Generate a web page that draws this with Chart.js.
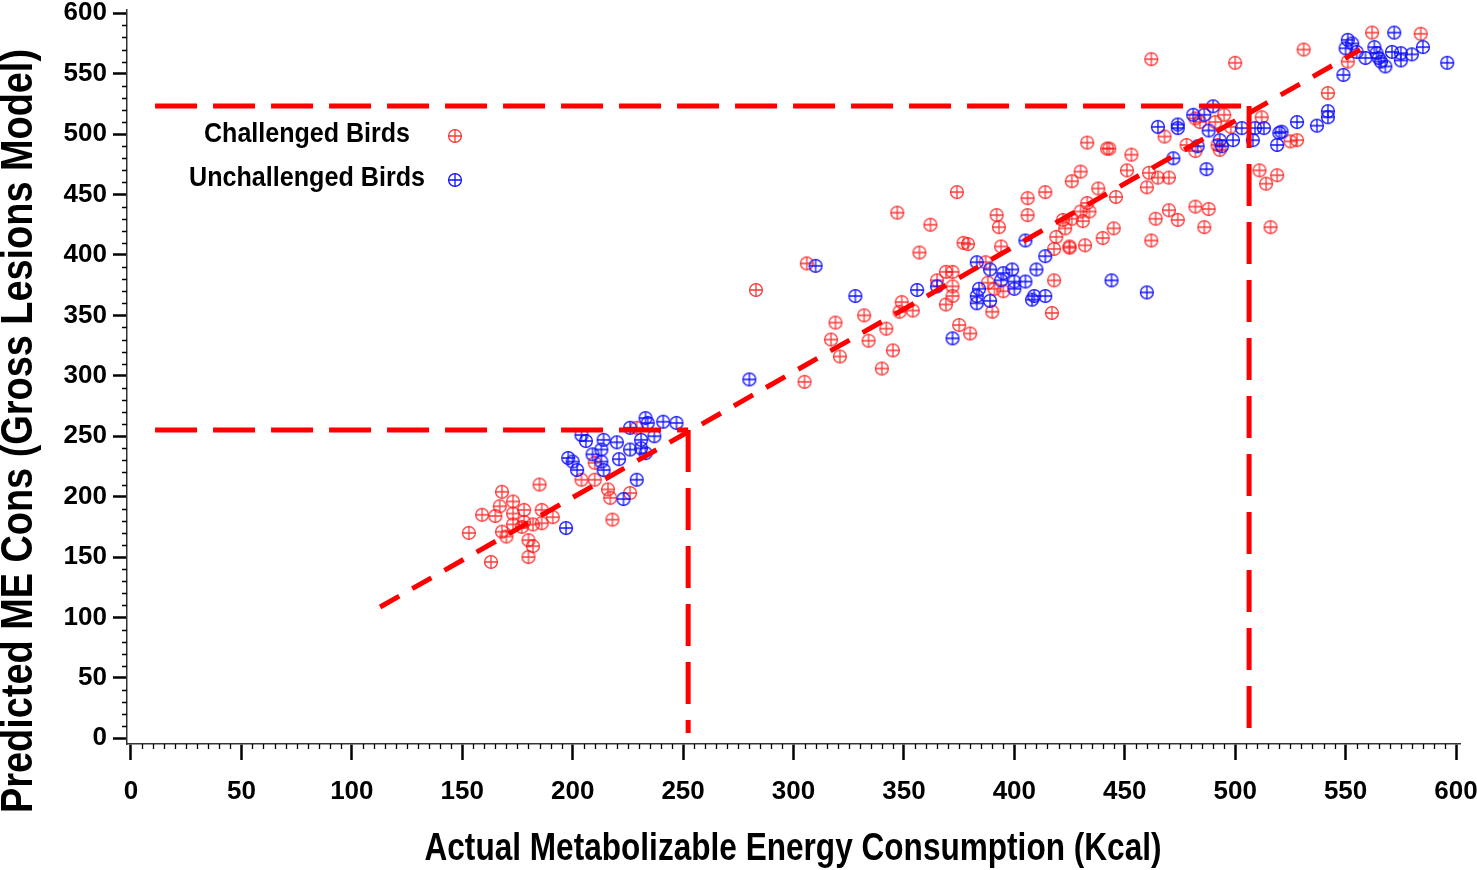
<!DOCTYPE html>
<html>
<head>
<meta charset="utf-8">
<script src="https://cdn.jsdelivr.net/npm/chart.js@4.4.1/dist/chart.umd.min.js"></script>
<style>
  html, body { margin: 0; padding: 0; background: #fff; }
  #wrap { width: 1477px; height: 870px; }
</style>
</head>
<body>
<div id="wrap"><canvas id="chart" width="1477" height="870"></canvas></div>
<script>
// ─── Data ──────────────────────────────────────────────────────────────────────
const xTicks = [0, 50, 100, 150, 200, 250, 300, 350, 400, 450, 500, 550, 600];
const yTicks = [0, 50, 100, 150, 200, 250, 300, 350, 400, 450, 500, 550, 600];

const xTitle = 'Actual Metabolizable Energy Consumption (Kcal)';
const yTitle = 'Predicted ME Cons (Gross Lesions Model)';
const seriesNames = ['Challenged Birds', 'Unchallenged Birds'];

// Challenged birds (red)
const challengedX = [
  153, 159, 165, 163, 167, 168, 173, 168, 170, 173, 173, 178, 178, 180, 182, 180, 185, 186, 191, 186,
  182, 177, 218, 204, 210, 210, 216, 217, 226, 229,
  347, 362, 357, 306, 283, 349, 348, 354, 332, 319, 342, 317, 334, 321, 345, 340, 305,
  430, 426, 374, 406, 414, 438, 446, 433, 392, 406, 393, 422, 426, 431, 430, 434, 445, 423, 419,
  440, 377, 379, 394, 425, 425, 432, 418, 387, 369, 372, 365, 372, 388, 391, 395, 418, 372, 369,
  390, 417, 375, 380,
  433, 442, 443,
  453, 451, 468, 461, 465, 470, 460, 464, 470, 474, 462, 482, 488, 486, 478, 482, 495, 491, 484,
  492, 493, 498, 512, 511, 519, 514, 516, 525, 528, 482,
  562, 584, 531, 542, 551, 462, 500
];
const challengedY = [
  170, 185, 184, 146, 192, 204, 196, 171, 167, 186, 177, 189, 179, 164, 159, 150, 210, 189, 183, 178,
  177, 175, 181, 214, 214, 228, 206, 199, 203, 257,
  435, 425, 402, 393, 371, 361, 353, 354, 350, 344, 339, 330, 329, 316, 321, 306, 295,
  469, 461, 452, 447, 452, 455, 448, 443, 433, 433, 423, 429, 430, 428, 436, 436, 422, 422, 415,
  414, 410, 409, 407, 407, 406, 408, 405, 394, 386, 386, 379, 374, 377, 372, 370, 379, 366, 359,
  353, 352, 342, 335,
  493, 488, 488,
  483, 470, 498, 468, 464, 464, 456, 430, 437, 429, 412, 440, 438, 423, 491, 513, 516, 510, 510,
  491, 487, 506, 514, 470, 466, 459, 423, 494, 495, 486,
  584, 583, 570, 534, 560, 562, 559
];

// Unchallenged birds (blue)
const unchallengedX = [
  197, 198, 200, 202, 204, 206, 214, 213, 209, 213, 214, 220, 221, 226, 226, 229, 223, 233, 234, 231,
  237, 231, 233, 241, 247,
  310, 328, 356, 280,
  405, 414, 383, 389, 395, 399, 410, 394, 400, 405, 400, 384, 383, 383, 389, 408, 409, 414, 365, 372,
  444, 460,
  490, 481, 486, 465, 474, 474, 488, 499, 503, 509, 513, 508, 493, 494, 483, 472, 487, 520, 519, 528,
  572, 551, 553, 550, 555, 563, 564, 559, 565, 566, 568, 571, 575, 575, 580, 585, 596, 549, 542, 542,
  537, 521
];
const unchallengedY = [
  174, 232, 229, 222, 251, 246, 247, 239, 235, 229, 222, 245, 231, 257, 239, 214, 198, 265, 261, 247,
  250, 240, 236, 262, 261,
  391, 366, 371, 297,
  412, 399, 394, 388, 385, 388, 388, 379, 378, 378, 372, 372, 366, 360, 362, 363, 366, 366, 374, 331,
  379, 369,
  523, 516, 516, 506, 508, 505, 503, 495, 505, 505, 505, 495, 495, 490, 490, 480, 471, 501, 491, 510,
  584, 578, 575, 571, 568, 572, 567, 563, 563, 560, 556, 568, 567, 561, 566, 572, 559, 549, 519, 514,
  507, 502
];

// Reference lines
const fitLineX = [112.8, 556.6];
const fitLineY = [108.7, 569.8];
const lowRefX = [10.9, 252.3];     // horizontal from .. to
const lowRefY = 255.2;
const lowRefBottom = 4.4;
const highRefX = [10.9, 506.3];
const highRefY = 523.3;
const highRefBottom = 6.9;

// ─── Helpers ───────────────────────────────────────────────────────────────────
const FONT = '"Liberation Sans", Arial, Helvetica, sans-serif';
const RED = 'rgba(255, 20, 20, 0.85)';
const BLUE = '#1010ff';
const LINE_RED = '#ff0000';

const toPoints = (xs, ys) => xs.map((x, i) => ({ x, y: ys[i] }));

function makeMarker(color) {
  const c = document.createElement('canvas');
  c.width = 16; c.height = 16;
  const g = c.getContext('2d');
  g.strokeStyle = color;
  g.lineWidth = 1.3;
  g.beginPath(); g.arc(8, 8, 6.4, 0, Math.PI * 2); g.stroke();
  g.beginPath();
  g.moveTo(8, 1.6); g.lineTo(8, 14.4);
  g.moveTo(1.6, 8); g.lineTo(14.4, 8);
  g.stroke();
  return c;
}
const redMarker = makeMarker(RED);
const blueMarker = makeMarker(BLUE);

// draw text squeezed to a target width (the original uses a condensed face)
function fitText(ctx, text, x, y, size, targetW, rotate) {
  ctx.save();
  ctx.font = `bold ${size}px ${FONT}`;
  const w = ctx.measureText(text).width;
  ctx.translate(x, y);
  if (rotate) ctx.rotate(-Math.PI / 2);
  ctx.scale(targetW / w, 1);
  ctx.textAlign = 'center';
  ctx.textBaseline = 'middle';
  ctx.fillStyle = '#000';
  ctx.fillText(text, 0, 0);
  ctx.restore();
}

// ─── Plugins ───────────────────────────────────────────────────────────────────
const decorations = {
  id: 'decorations',
  afterDraw(chart) {
    const { ctx, chartArea, scales: { x, y } } = chart;
    ctx.save();
    // minor ticks
    ctx.strokeStyle = '#000';
    ctx.lineWidth = 1.3;
    ctx.beginPath();
    for (let v = 5; v < 600; v += 5) {
      if (v % 50 === 0) continue;
      const px = Math.round(x.getPixelForValue(v)) + 0.5;
      ctx.moveTo(px, chartArea.bottom);
      ctx.lineTo(px, chartArea.bottom + 5);
    }
    for (let v = 10; v < 600; v += 10) {
      if (v % 50 === 0) continue;
      const py = Math.round(y.getPixelForValue(v)) + 0.5;
      ctx.moveTo(chartArea.left, py);
      ctx.lineTo(chartArea.left - 5, py);
    }
    ctx.stroke();
    ctx.restore();

    // axis titles
    fitText(ctx, xTitle, 793, 850, 38, 737, false);
    fitText(ctx, yTitle, 20, 431, 44, 764, true);

    // legend
    const rows = [
      { name: seriesNames[0], marker: redMarker, y: 134, w: 206 },
      { name: seriesNames[1], marker: blueMarker, y: 178, w: 236 }
    ];
    rows.forEach(r => {
      fitText(ctx, r.name, 307, r.y, 28, r.w, false);
      ctx.drawImage(r.marker, 455 - 8, r.y + 2 - 8);
    });
  }
};

// ─── Chart ─────────────────────────────────────────────────────────────────────
const tickFont = { family: FONT, size: 26, weight: 'bold' };

new Chart(document.getElementById('chart'), {
  type: 'scatter',
  data: {
    datasets: [
      {
        label: 'fit',
        type: 'line',
        data: toPoints(fitLineX, fitLineY),
        borderColor: LINE_RED, borderWidth: 5, borderDash: [22, 15],
        pointRadius: 0, fill: false, order: 0
      },
      {
        label: 'low ref',
        type: 'line',
        data: [{ x: lowRefX[0], y: lowRefY }, { x: lowRefX[1], y: lowRefY }],
        borderColor: LINE_RED, borderWidth: 5, borderDash: [42, 16],
        pointRadius: 0, fill: false, order: 0
      },
      {
        label: 'low ref v',
        type: 'line',
        data: [{ x: lowRefX[1], y: lowRefY }, { x: lowRefX[1], y: lowRefBottom }],
        borderColor: LINE_RED, borderWidth: 5, borderDash: [42, 16],
        pointRadius: 0, fill: false, order: 0
      },
      {
        label: 'high ref',
        type: 'line',
        data: [{ x: highRefX[0], y: highRefY }, { x: highRefX[1], y: highRefY }],
        borderColor: LINE_RED, borderWidth: 5, borderDash: [42, 16],
        pointRadius: 0, fill: false, order: 0
      },
      {
        label: 'high ref v',
        type: 'line',
        data: [{ x: highRefX[1], y: highRefY }, { x: highRefX[1], y: highRefBottom }],
        borderColor: LINE_RED, borderWidth: 5, borderDash: [42, 16],
        pointRadius: 0, fill: false, order: 0
      },
      {
        label: seriesNames[1],
        data: toPoints(unchallengedX, unchallengedY),
        pointStyle: blueMarker, pointRadius: 7, order: 1
      },
      {
        label: seriesNames[0],
        data: toPoints(challengedX, challengedY),
        pointStyle: redMarker, pointRadius: 7, order: 2
      }
    ]
  },
  options: {
    responsive: false,
    animation: false,
    devicePixelRatio: 1,
    layout: { padding: { top: 10, right: 17, left: 0, bottom: 0 } },
    plugins: { legend: { display: false }, tooltip: { enabled: false } },
    scales: {
      x: {
        type: 'linear', min: -1.8, max: 601.8,
        afterBuildTicks: s => { s.ticks = xTicks.map(v => ({ value: v })); },
        afterFit: s => { s.height = 126; s.paddingLeft = 0; s.paddingRight = 0; },
        grid: { drawOnChartArea: false, drawTicks: true, tickLength: 16, tickWidth: 2.5, tickColor: '#000' },
        border: { display: true, color: '#333', width: 1.5 },
        ticks: { font: tickFont, color: '#000', padding: 16, maxRotation: 0, autoSkip: false }
      },
      y: {
        type: 'linear', min: -4.7, max: 602.7,
        afterBuildTicks: s => { s.ticks = yTicks.map(v => ({ value: v })); },
        afterFit: s => { s.width = 127; s.paddingTop = 0; s.paddingBottom = 0; },
        grid: { drawOnChartArea: false, drawTicks: true, tickLength: 14, tickWidth: 2.5, tickColor: '#000' },
        border: { display: true, color: '#333', width: 1.5 },
        ticks: { font: tickFont, color: '#000', padding: 6, autoSkip: false }
      }
    }
  },
  plugins: [decorations]
});
</script>
</body>
</html>
